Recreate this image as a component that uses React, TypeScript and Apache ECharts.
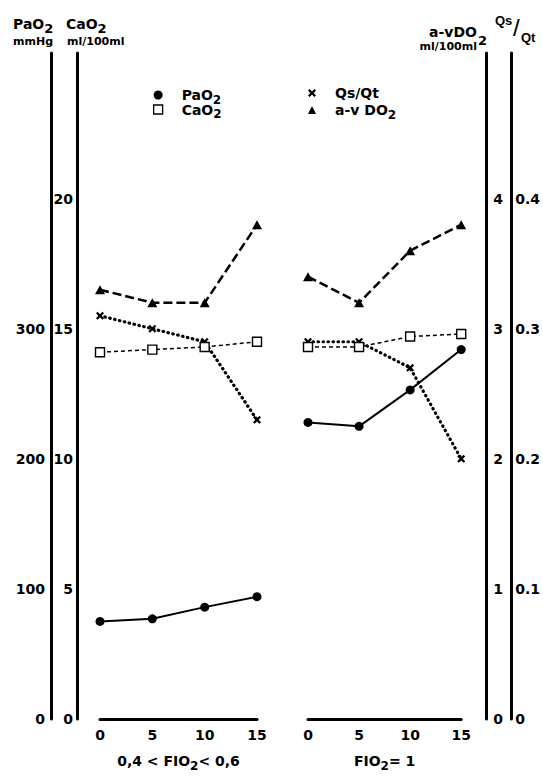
import React, { useEffect, useRef } from 'react';
import * as echarts from 'echarts';

// ---- data ----
const timePoints = [0, 5, 10, 15];
const panelTitles = ['0,4 < FIO', 'FIO'];
const seriesNames = ['PaO2', 'CaO2', 'Qs/Qt', 'a-v DO2'];

// panel 1 : 0.4 < FiO2 < 0.6
const pao2Moderate = [75, 77, 86, 94];
const cao2Moderate = [14.1, 14.2, 14.3, 14.5];
const avdo2Moderate = [3.3, 3.2, 3.2, 3.8];
const qsqtModerate = [0.31, 0.3, 0.29, 0.23];

// panel 2 : FiO2 = 1
const pao2Pure = [228, 225, 253, 284];
const cao2Pure = [14.3, 14.3, 14.7, 14.8];
const avdo2Pure = [3.4, 3.2, 3.6, 3.8];
const qsqtPure = [0.29, 0.29, 0.27, 0.2];

// tick label limits
const pao2Ticks = [0, 100, 200, 300];
const cao2Ticks = [0, 5, 10, 15, 20];
const avdo2Ticks = [0, 1, 2, 3, 4];
const qsqtTicks = [0, 0.1, 0.2, 0.3, 0.4];

const FONT = 'DejaVu Sans';
const FONT2 = 'Liberation Sans';
const TOP_CAO2 = 25.6; // axis top in CaO2 units

const crossPath =
  'path://M0,2 L2,0 L5,3 L8,0 L10,2 L7,5 L10,8 L8,10 L5,7 L2,10 L0,8 L3,5 Z';

const pair = (vals: number[]) => timePoints.map((t, i) => [t, vals[i]]);

const subRich = {
  a: { fontFamily: FONT, fontWeight: 'bold', fontSize: 14, color: '#000' },
  s: { fontFamily: FONT, fontWeight: 'bold', fontSize: 12, color: '#000', padding: [11, 0, 0, 0] },
};

export default function App() {
  const ref = useRef<HTMLDivElement>(null);
  useEffect(() => {
    if (!ref.current) return;
    const chart = echarts.init(ref.current, undefined, { renderer: 'svg' });

    const labelStyle = { fontFamily: FONT, fontWeight: 'bold' as const, fontSize: 14, color: '#000' };
    const axisLine = { show: true, onZero: false, lineStyle: { color: '#000', width: 3 } };

    const mkY = (
      grid: number,
      max: number,
      interval: number,
      ticks: number[],
      visible: boolean,
      position: 'left' | 'right',
      offset: number,
      margin: number,
      decimals: number
    ) => ({
      type: 'value',
      gridIndex: grid,
      min: 0,
      max,
      interval,
      show: visible,
      position,
      offset,
      axisLine,
      axisTick: { show: false },
      splitLine: { show: false },
      axisLabel: {
        ...labelStyle,
        margin,
        showMaxLabel: false,
        formatter: (v: number) => {
          const lim = ticks[ticks.length - 1];
          if (v > lim + 1e-9) return '';
          if (v === 0) return '0';
          return decimals ? v.toFixed(decimals) : String(Math.round(v));
        },
      },
    });

    const pMax = TOP_CAO2 * 20;
    const aMax = TOP_CAO2 / 5;
    const qMax = TOP_CAO2 / 50;

    const yAxis = [
      mkY(0, pMax, 100, pao2Ticks, true, 'left', 49, 6, 0),
      mkY(0, TOP_CAO2, 5, cao2Ticks, true, 'left', 23, 4, 0),
      mkY(0, aMax, 1, avdo2Ticks, false, 'right', 25, 7, 0),
      mkY(0, qMax, 0.1, qsqtTicks, false, 'right', 50, 4, 1),
      mkY(1, pMax, 100, pao2Ticks, false, 'left', 49, 6, 0),
      mkY(1, TOP_CAO2, 5, cao2Ticks, false, 'left', 23, 4, 0),
      mkY(1, aMax, 1, avdo2Ticks, true, 'right', 25, 7, 0),
      mkY(1, qMax, 0.1, qsqtTicks, true, 'right', 50, 4, 1),
    ];

    const mkX = (grid: number, name: string) => ({
      type: 'value',
      gridIndex: grid,
      min: 0,
      max: 15,
      interval: 5,
      axisLine,
      axisTick: { show: false },
      splitLine: { show: false },
      axisLabel: { ...labelStyle, fontSize: 14, margin: 9 },
      name,
      nameLocation: 'middle',
      nameGap: 30,
      nameTextStyle: { rich: subRich },
    });

    const styles = [
      { symbol: 'circle', symbolSize: 9, itemStyle: { color: '#000' }, lineStyle: { color: '#000', width: 2, type: 'solid' } },
      {
        symbol: 'rect',
        symbolSize: 9,
        itemStyle: { color: '#fff', borderColor: '#000', borderWidth: 1.4 },
        lineStyle: { color: '#000', width: 1.5, type: [4, 3] },
      },
      { symbol: crossPath, symbolSize: 8, itemStyle: { color: '#000' }, lineStyle: { color: '#000', width: 3.2, type: [0.5, 4.5], cap: 'round' } },
      { symbol: 'triangle', symbolSize: [10, 9], itemStyle: { color: '#000' }, lineStyle: { color: '#000', width: 2.5, type: [9, 4] } },
    ];

    const panels = [
      { vals: [pao2Moderate, cao2Moderate, qsqtModerate, avdo2Moderate], axes: [0, 1, 3, 2] },
      { vals: [pao2Pure, cao2Pure, qsqtPure, avdo2Pure], axes: [4, 5, 7, 6] },
    ];

    const series: any[] = [];
    panels.forEach((p, g) => {
      seriesNames.forEach((n, k) => {
        series.push({
          type: 'line',
          name: n,
          xAxisIndex: g,
          yAxisIndex: p.axes[k],
          data: pair(p.vals[k]),
          symbol: styles[k].symbol,
          symbolSize: styles[k].symbolSize,
          showAllSymbol: true,
          itemStyle: styles[k].itemStyle,
          lineStyle: styles[k].lineStyle,
          z: k === 1 ? 3 : 2,
        });
      });
    });

    const legendFmt = (name: string) => {
      if (name === 'PaO2') return '{a|PaO}{s|2}';
      if (name === 'CaO2') return '{a|CaO}{s|2}';
      if (name === 'a-v DO2') return '{a|a-v DO}{s|2}';
      return '{a|' + name + '}';
    };
    const legendRich = {
      a: { fontFamily: FONT, fontWeight: 'bold', fontSize: 14, color: '#000', padding: [0, 0, 0, 14] },
      s: { fontFamily: FONT, fontWeight: 'bold', fontSize: 12, color: '#000', padding: [9, 0, 0, 0] },
    };

    const rich = {
      a: { fontFamily: FONT, fontWeight: 'bold', fontSize: 14, fill: '#000', lineHeight: 17 },
      s: { fontFamily: FONT, fontWeight: 'bold', fontSize: 13, fill: '#000', padding: [10, 0, 0, 0], lineHeight: 14 },
    };
    const txt = (text: string, pos: any, font: string, align = 'left') => ({
      type: 'text',
      ...pos,
      style: { text, fill: '#000', font, align, rich },
    });
    const big = `bold 14px ${FONT}`;
    const unit = `bold 11px ${FONT}`;

    chart.setOption({
      animation: false,
      backgroundColor: '#fff',
      grid: [
        { left: 100, width: 157, top: 53, bottom: 52 },
        { left: 308, width: 155, top: 53, bottom: 52 },
      ],
      xAxis: [mkX(0, '{a|' + panelTitles[0] + '}{s|2}{a|< 0,6}'), mkX(1, '{a|' + panelTitles[1] + '}{s|2}{a|= 1}')],
      yAxis,
      legend: [
        {
          data: [
            { name: 'PaO2', icon: 'circle' },
            { name: 'CaO2', icon: 'rect', itemStyle: { color: '#fff', borderColor: '#000', borderWidth: 1.3 } },
          ],
          left: 148,
          top: 83,
          orient: 'vertical',
          itemWidth: 9,
          itemHeight: 9,
          itemGap: -3,
          selectedMode: false,
          formatter: legendFmt,
          textStyle: { rich: legendRich },
        },
        {
          data: [
            { name: 'Qs/Qt', icon: crossPath },
            { name: 'a-v DO2', icon: 'triangle' },
          ],
          left: 303,
          top: 81,
          orient: 'vertical',
          itemWidth: 8,
          itemHeight: 8,
          itemGap: 3,
          selectedMode: false,
          formatter: legendFmt,
          textStyle: { rich: legendRich },
        },
      ],
      graphic: [
        txt('{a|PaO}{s|2}', { left: 13, top: 12 }, big),
        txt('mmHg', { left: 13, top: 36 }, unit),
        txt('{a|CaO}{s|2}', { left: 66, top: 12 }, big),
        txt('ml/100ml', { left: 67, top: 36 }, unit),
        txt('a-vDO', { right: 66, top: 25 }, big, 'right'),
        txt('2', { left: 478, top: 34 }, `bold 13px ${FONT}`),
        txt('ml/100ml', { right: 66, top: 41 }, unit, 'right'),
        txt('Qs', { left: 495, top: 14 }, `bold 13px ${FONT2}`),
        txt('/', { left: 513, top: 15 }, `normal 24px ${FONT2}`),
        txt('Qt', { left: 521, top: 31 }, `bold 13px ${FONT2}`),
      ],
      series,
    });
    return () => chart.dispose();
  }, []);
  return <div ref={ref} style={{ position: 'absolute', left: 0, top: 0, width: 543, height: 777 }} />;
}
